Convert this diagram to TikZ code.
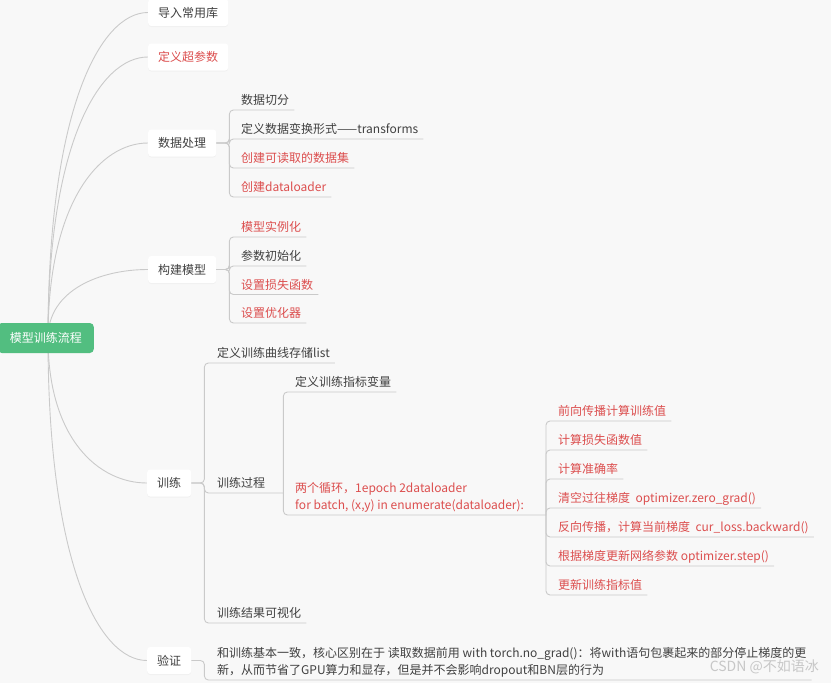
\documentclass[tikz,border=0pt]{standalone}
\usepackage{fontspec}
\setmainfont{Noto Sans CJK SC}
\usetikzlibrary{calc,shadows}
\definecolor{bgc}{HTML}{F8F8F8}
\definecolor{linec}{HTML}{CACACA}
\definecolor{txt}{HTML}{404040}
\definecolor{redt}{HTML}{DC4E4E}
\definecolor{rootg}{HTML}{52BE80}
\pgfdeclarelayer{back}
\pgfdeclarelayer{bg}
\pgfsetlayers{back,bg,main}
\begin{document}
\begin{tikzpicture}[x=1pt,y=-1pt,
  conn/.style={draw=linec, line width=0.9pt},
  elbow/.style={conn, rounded corners=4pt},
  rootbox/.style={fill=rootg, text=white, rounded corners=4pt, anchor=east,
    minimum width=96pt, minimum height=30pt, inner sep=0pt,
    font=\fontsize{12}{14}\selectfont},
  topic/.style={fill=white, rounded corners=3pt, anchor=west, minimum height=27pt,
    inner xsep=10pt, inner ysep=0pt, text=txt, font=\fontsize{12}{14}\selectfont,
    drop shadow={opacity=0.06, shadow xshift=0pt, shadow yshift=-1pt}},
  item/.style={anchor=south west, inner sep=0pt, text depth=5pt, text=txt,
    font=\fontsize{12}{17}\selectfont},
  hot/.style={text=redt}
]
\begin{pgfonlayer}{back}
  \fill[bgc] (0,0) rectangle (831,683);
\end{pgfonlayer}
\useasboundingbox (0,0) rectangle (831,683);

% root
\node[rootbox] (root) at (94,338) {模型训练流程};
\coordinate (hub) at (48,338);

% level 1
\node[topic] (t1) at (148,12.5) {导入常用库};
\node[topic,hot] (t2) at (148,57) {定义超参数};
\node[topic] (t3) at (148,143) {数据处理};
\node[topic] (t4) at (148,269.5) {构建模型};
\node[topic] (t5) at (147,483) {训练};
\node[topic] (t6) at (147,660.5) {验证};

\begin{pgfonlayer}{bg}
  \foreach \t in {t1,t2,t3,t4,t5,t6}
    \draw[conn] (hub) .. controls ($(hub)!0.7!(hub |- \t.west)$) and ([xshift=-48pt]\t.west) .. (\t.west);
\end{pgfonlayer}

% 数据处理
\coordinate (v3) at ([xshift=13pt]t3.east);
\node[item] (d1) at (241,110) {数据切分};
\node[item] (d2) at (241,139) {定义数据变换形式——transforms};
\node[item,hot] (d3) at (241,168) {创建可读取的数据集};
\node[item,hot] (d4) at (241,197) {创建dataloader};
\foreach \c in {d1,d2,d3,d4}
  \draw[elbow] (t3.east) -- (v3) -- (v3 |- \c.south) -- ([xshift=5pt]\c.south east);

% 构建模型
\coordinate (v4) at ([xshift=13pt]t4.east);
\node[item,hot] (m1) at (241,237) {模型实例化};
\node[item] (m2) at (241,266) {参数初始化};
\node[item,hot] (m3) at (241,294.5) {设置损失函数};
\node[item,hot] (m4) at (241,323) {设置优化器};
\foreach \c in {m1,m2,m3,m4}
  \draw[elbow] (t4.east) -- (v4) -- (v4 |- \c.south) -- ([xshift=5pt]\c.south east);

% 训练
\coordinate (v5) at ([xshift=13pt]t5.east);
\node[item] (r1) at (217,363) {定义训练曲线存储list};
\node[item] (r2) at (217,493) {训练过程};
\node[item] (r3) at (217,623) {训练结果可视化};
\coordinate (v6) at ([xshift=18pt]r2.south east);
\draw[elbow] (t5.east) -- (v5) -- (v5 |- r1.south) -- ([xshift=5pt]r1.south east);
\draw[elbow] (t5.east) -- (v5) -- (v5 |- r2.south) -- (v6);
\draw[elbow] (t5.east) -- (v5) -- (v5 |- r3.south) -- ([xshift=5pt]r3.south east);

% 训练过程
\node[item] (s1) at (295,392) {定义训练指标变量};
\node[item,hot] (s2) at (295,515) {\begin{tabular}[b]{@{}l@{}}两个循环，1epoch 2dataloader\\for batch, (x,y) in enumerate(dataloader):\end{tabular}};
\coordinate (v7) at (546,515);
\draw[elbow] (v6) -- (v6 |- s1.south) -- ([xshift=5pt]s1.south east);
\draw[elbow] (v6) -- (v6 |- s2.south) -- (v7);

% 循环内部
\node[item,hot] (u1) at (558,421) {前向传播计算训练值};
\node[item,hot] (u2) at (558,450) {计算损失函数值};
\node[item,hot] (u3) at (558,479) {计算准确率};
\node[item,hot] (u4) at (558,508) {清空过往梯度\ \ optimizer.zero\_grad()};
\node[item,hot] (u5) at (558,537) {反向传播，计算当前梯度\ \ cur\_loss.backward()};
\node[item,hot] (u6) at (558,566) {根据梯度更新网络参数 optimizer.step()};
\node[item,hot] (u7) at (558,595) {更新训练指标值};
\foreach \c in {u1,u2,u3,u4,u5,u6,u7}
  \draw[elbow] (v7) -- (v7 |- \c.south) -- ([xshift=5pt]\c.south east);

% 验证
\coordinate (v8) at ([xshift=13pt]t6.east);
\node[item] (w1) at (217,680) {\begin{tabular}[b]{@{}l@{}}和训练基本一致，核心区别在于 读取数据前用 with torch.no\_grad()：将with语句包裹起来的部分停止梯度的更\\新，从而节省了GPU算力和显存，但是并不会影响dropout和BN层的行为\end{tabular}};
\draw[elbow] (t6.east) -- (v8) -- (v8 |- w1.south) -- ([xshift=5pt]w1.south east);

% watermark
\node[anchor=east, inner sep=0pt, text=black!22, font=\fontsize{14}{14}\selectfont] (wm) at (819,667) {CSDN @不如语冰};
\end{tikzpicture}
\end{document}
